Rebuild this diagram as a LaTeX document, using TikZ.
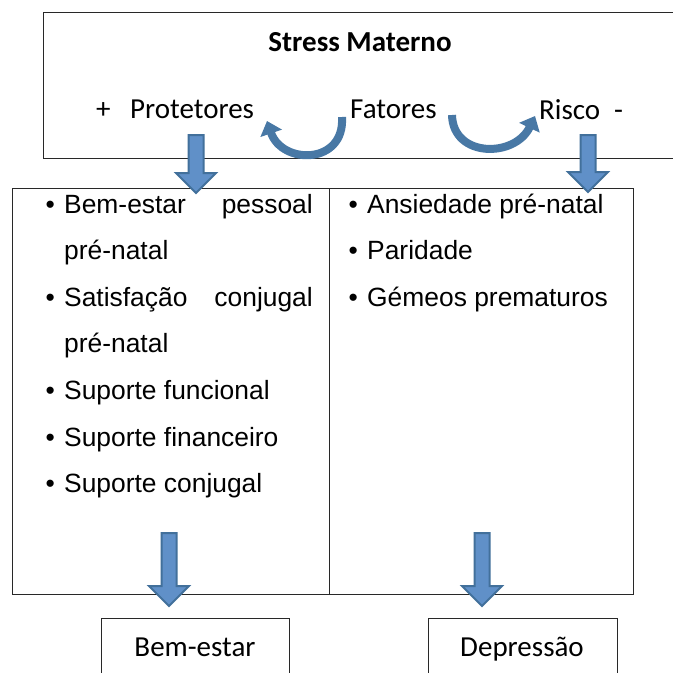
\documentclass[tikz,border=0pt]{standalone}
\usepackage{fontspec}
\setmainfont{Liberation Sans}
\newfontfamily\calib{Carlito}
\usetikzlibrary{arrows.meta}
\definecolor{arrfill}{RGB}{96,144,200}
\definecolor{arrdraw}{RGB}{66,112,155}
\definecolor{curvc}{RGB}{72,120,165}
\definecolor{linec}{RGB}{40,40,40}
\newcommand\blockdown[4]{% name, x, ytop, ytip
  \draw[blk] (#2-7.5,#3) -- (#2+7.5,#3) -- (#2+7.5,#4-20) -- (#2+20,#4-20)
    -- (#2,#4) coordinate (#1) -- (#2-20,#4-20) -- (#2-7.5,#4-20) -- cycle;}
\begin{document}
\begin{tikzpicture}[x=1bp,y=-1bp,
  box/.style={draw=linec,line width=1.3bp,inner sep=0,anchor=north west},
  cal/.style={font=\calib\fontsize{29bp}{34bp}\selectfont, inner sep=0},
  calb/.style={font=\calib\bfseries\fontsize{29bp}{34bp}\selectfont, inner sep=0},
  item/.style={font=\fontsize{26.4bp}{31bp}\selectfont, inner sep=0, anchor=base west},
  itemr/.style={font=\fontsize{26.4bp}{31bp}\selectfont, inner sep=0, anchor=base east},
  blk/.style={fill=arrfill,draw=arrdraw,line width=2bp,line join=miter},
  curv/.style={draw=curvc,line width=8bp,-{Triangle[width=22bp,length=13bp]}}]
\useasboundingbox (0,0) rectangle (673,673);
\fill[white] (0,0) rectangle (673,673);
% boxes
\node[box,minimum width=660bp,minimum height=146bp] (topbox) at (43,12) {};
\node[box,minimum width=317bp,minimum height=406bp] (leftcol) at (12,188) {};
\node[box,minimum width=304bp,minimum height=406bp] (rightcol) at (329,188) {};
\node[box,minimum width=188bp,minimum height=80bp] (bemb) at (101,618) {};
\node[box,minimum width=189bp,minimum height=80bp] (depb) at (428,618) {};
% top texts
\node[calb,anchor=base] (title) at (360,52) {Stress Materno};
\node[cal,anchor=base west] (plus) at (96,119) {+};
\node[cal,anchor=base west] (prot) at (130,119) {Protetores};
\node[cal,anchor=base west] (fat) at (350,119) {Fatores};
\node[cal,anchor=base west] (risco) at (539,120) {Risco};
\node[cal,anchor=base west] (minus) at (614,120) {-};
% bottom texts
\node[cal,anchor=base] (bem) at (195,656) {Bem-estar};
\node[cal,anchor=base] (dep) at (522,656) {Depressão};
% left column items
\foreach \y/\n in {213/b1,306.2/b2,399.4/b3,446/b4,492.6/b5}
  \node[item] (\n) at (45.5,\y) {•};
\node[item] (l1) at (64,213) {Bem-estar};
\node[itemr] (l1b) at (313,213) {pessoal};
\node[item] (l2) at (64,259.6) {pré-natal};
\node[item] (l3) at (64,306.2) {Satisfação};
\node[itemr] (l3b) at (313,306.2) {conjugal};
\node[item] (l4) at (64,352.8) {pré-natal};
\node[item] (l5) at (64,399.4) {Suporte funcional};
\node[item] (l6) at (64,446) {Suporte financeiro};
\node[item] (l7) at (64,492.6) {Suporte conjugal};
% right column items
\foreach \y/\n in {213/c1,259.6/c2,306.2/c3}
  \node[item] (\n) at (348.5,\y) {•};
\node[item] (r1) at (367,213) {Ansiedade pré-natal};
\node[item] (r2) at (367,259.6) {Paridade};
\node[item] (r3) at (367,306.2) {Gémeos prematuros};
% block arrows
\blockdown{a1}{196}{135}{193}
\blockdown{a2}{588}{135}{192}
\blockdown{a3}{169}{533}{606}
\blockdown{a4}{482}{533}{606}
% curved arrows
\draw[curv] (342,117) .. controls (345,165) and (282,165) .. (267,121);
\draw[curv] (452,115) .. controls (453,158) and (515,158) .. (535,116);
\end{tikzpicture}
\end{document}
